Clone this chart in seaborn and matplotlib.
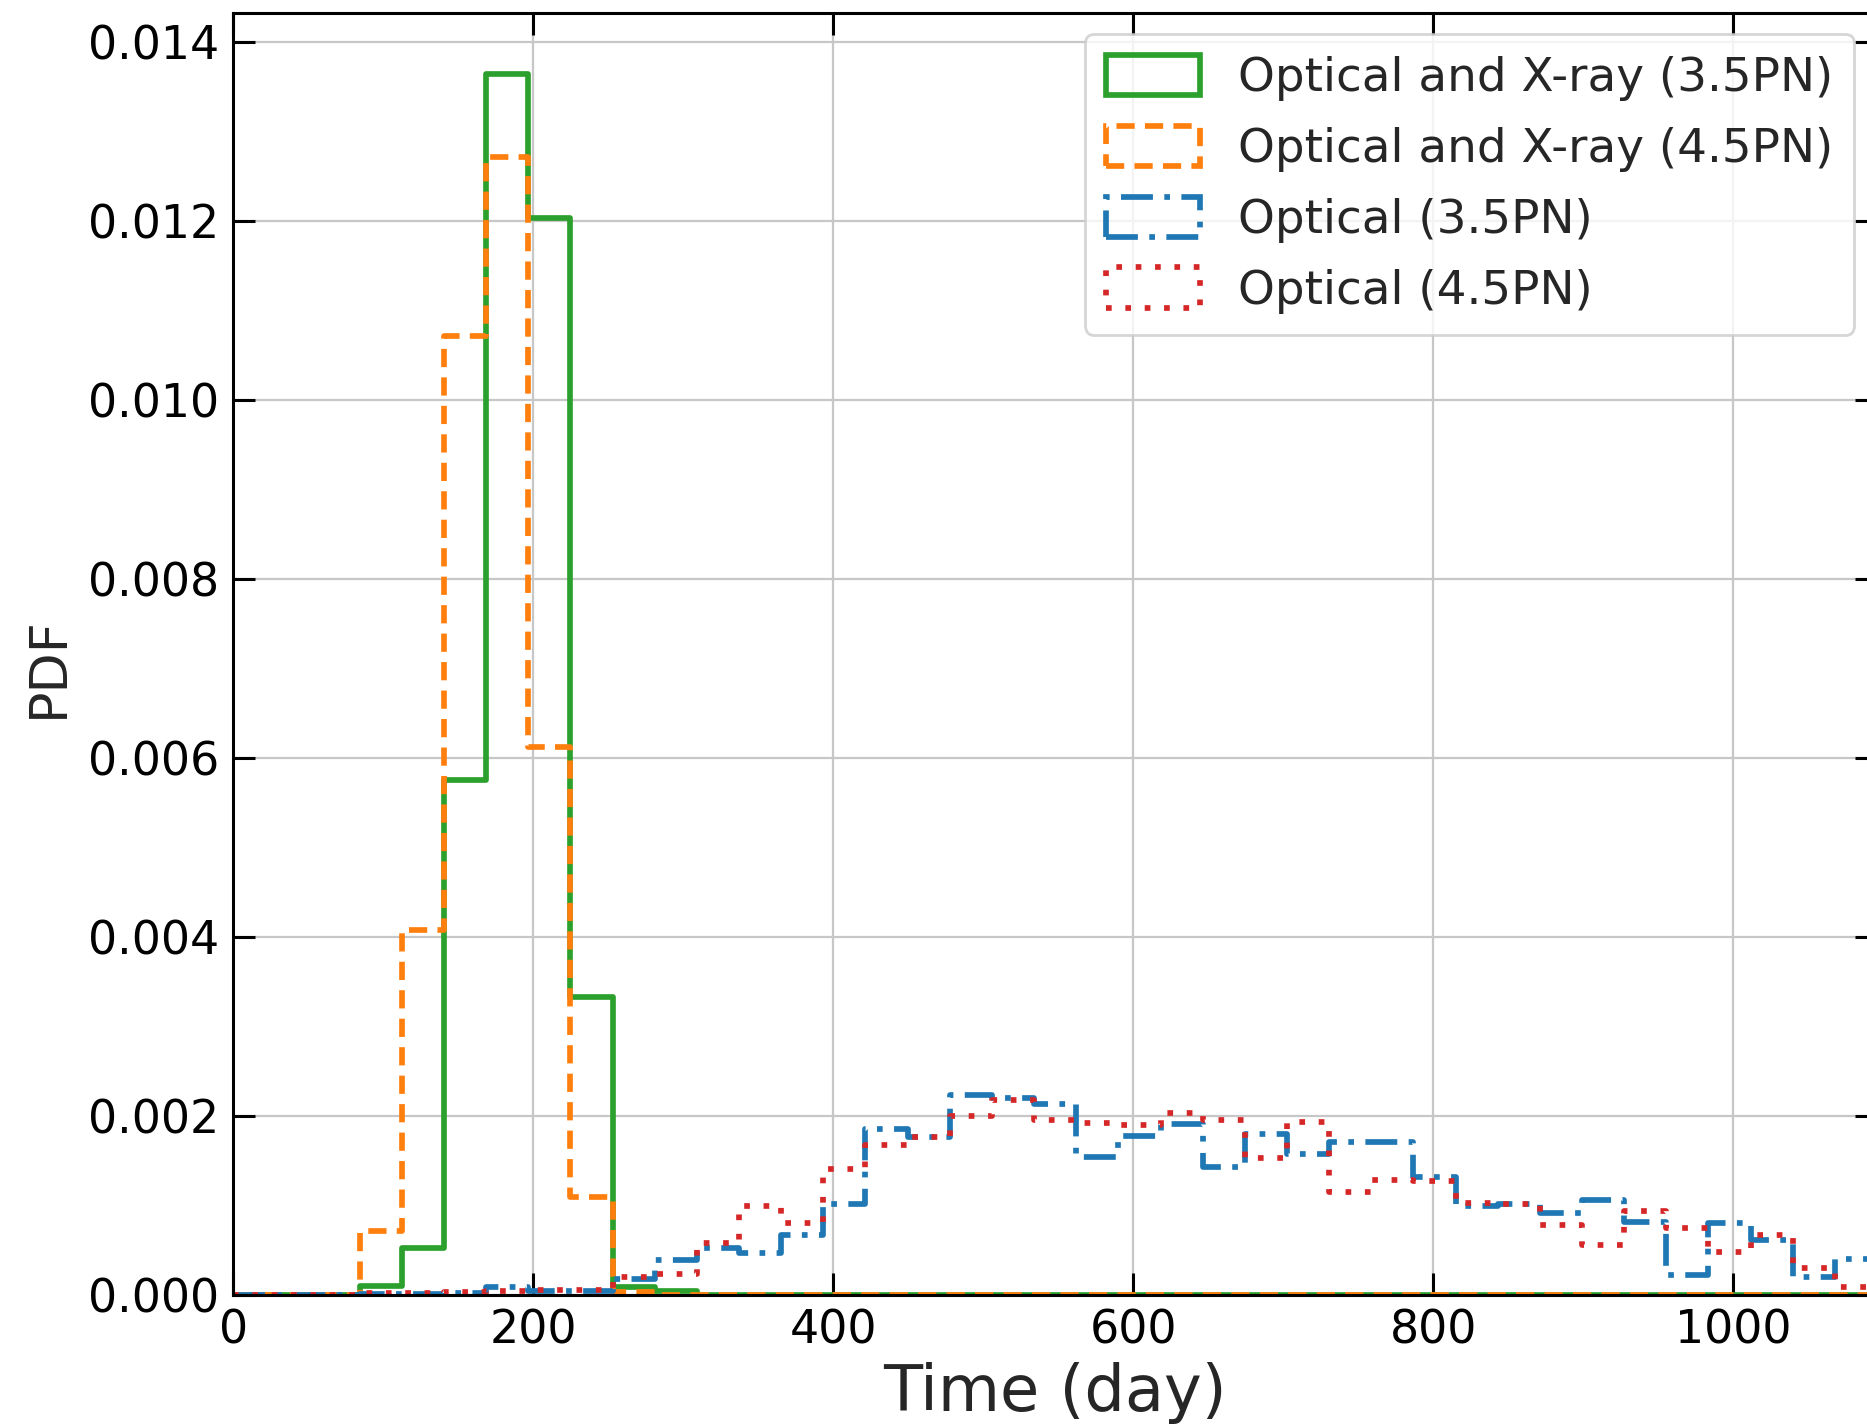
import numpy as np
import pandas as pd
import matplotlib
matplotlib.use("Agg")
import matplotlib.pyplot as plt
from matplotlib.patches import Patch
import seaborn as sns

# ---- data (bin edges in days, PDF heights per bin) ----
bin_edges = np.linspace(0, 1096, 40)

green_35 = [0, 0, 0, 0.0001, 0.00053, 0.00575, 0.01364, 0.01203, 0.00333, 0.00009,
            0.00004, 0, 0, 0, 0, 0, 0, 0, 0, 0,
            0, 0, 0, 0, 0, 0, 0, 0, 0, 0,
            0, 0, 0, 0, 0, 0, 0, 0, 0]
orange_45 = [0, 0, 0, 0.00072, 0.00408, 0.01072, 0.01272, 0.00612, 0.00109, 0.00003,
             0, 0, 0, 0, 0, 0, 0, 0, 0, 0,
             0, 0, 0, 0, 0, 0, 0, 0, 0, 0,
             0, 0, 0, 0, 0, 0, 0, 0, 0]
blue_35 = [0, 0, 0, 0.00001, 0.00001, 0.00002, 0.00009, 0.00005, 0.00005, 0.000175,
           0.00039, 0.00052, 0.00047, 0.00067, 0.00102, 0.00185, 0.00176, 0.002235, 0.0022, 0.00213,
           0.00154, 0.00178, 0.00191, 0.00143, 0.0018, 0.00158, 0.00171, 0.00171, 0.00132, 0.0010,
           0.00102, 0.00092, 0.00106, 0.00082, 0.00022, 0.0008, 0.000615, 0.0002, 0.0004]
red_45 = [0, 0, 0, 0.00002, 0.00002, 0.00003, 0.00004, 0.00006, 0.00006, 0.0002,
          0.00024, 0.00058, 0.00099, 0.00081, 0.00141, 0.00168, 0.00176, 0.0020, 0.00218, 0.001955,
          0.001925, 0.0019, 0.00203, 0.00196, 0.00153, 0.00193, 0.001155, 0.00128, 0.00127, 0.00103,
          0.00102, 0.00078, 0.00056, 0.00094, 0.000745, 0.000477, 0.00067, 0.0003, 0.00009]

labels = ["Optical and X-ray (3.5PN)", "Optical and X-ray (4.5PN)",
          "Optical (3.5PN)", "Optical (4.5PN)"]
series = [green_35, orange_45, blue_35, red_45]
colors = ["#2ca02c", "#ff7f0e", "#1f77b4", "#d62728"]
styles = ["-", (0, (3.2, 1.8)), (0, (5.6, 2.0, 1.0, 2.0)), (0, (1.0, 2.4))]

sns.set_style("ticks")
plt.rcParams["font.family"] = ["DejaVu Sans"]

DPI = 200
fig = plt.figure(figsize=(1867 / DPI, 1426 / DPI), dpi=DPI)
W, H = 1867, 1426
ax = fig.add_axes([233.3 / W, 1 - 1295 / H, (1877 - 233.3) / W, (1295 - 13.3) / H])

centers = 0.5 * (bin_edges[:-1] + bin_edges[1:])
lw = 2.05
edges_list = [float(e) for e in bin_edges]
for vals, c, ls in zip(series, colors, styles):
    df = pd.DataFrame({"t": centers, "w": vals})
    sns.histplot(data=df, x="t", weights="w", bins=edges_list, element="step", fill=False,
                 color=c, linestyle=ls, linewidth=lw, ax=ax)

ymax = max(max(s) for s in series) * 1.05
ax.set_xlim(bin_edges[0], bin_edges[-1])
ax.set_ylim(0, ymax)
ax.set_xticks([0, 200, 400, 600, 800, 1000])
ax.set_yticks(np.arange(0, 0.0141, 0.002))
ax.yaxis.set_major_formatter(matplotlib.ticker.FormatStrFormatter("%.3f"))

ax.grid(True, color="0.78", linewidth=0.8)
ax.set_axisbelow(True)
for sp in ax.spines.values():
    sp.set_visible(True)
    sp.set_linewidth(1.1)
    sp.set_color("black")
ax.tick_params(direction="in", top=True, right=True, length=8, width=1.1,
               labelsize=16.5, pad=5, colors="black")

ax.set_xlabel("Time (day)", fontsize=23, labelpad=3)
ax.set_ylabel("PDF", fontsize=18.8)
ax.yaxis.set_label_coords(-0.097, 0.49)

handles = [Patch(facecolor="none", edgecolor=c, linestyle=ls, linewidth=lw, label=l)
           for c, ls, l in zip(colors, styles, labels)]
ax.legend(handles=handles, loc="upper right", bbox_to_anchor=(0.986, 0.984),
          borderaxespad=0, fontsize=16.9, frameon=True, framealpha=0.8,
          handlelength=2.0, handleheight=0.95, labelspacing=0.52, borderpad=0.45,
          handletextpad=0.8)

fig.savefig("out.png", dpi=DPI)
